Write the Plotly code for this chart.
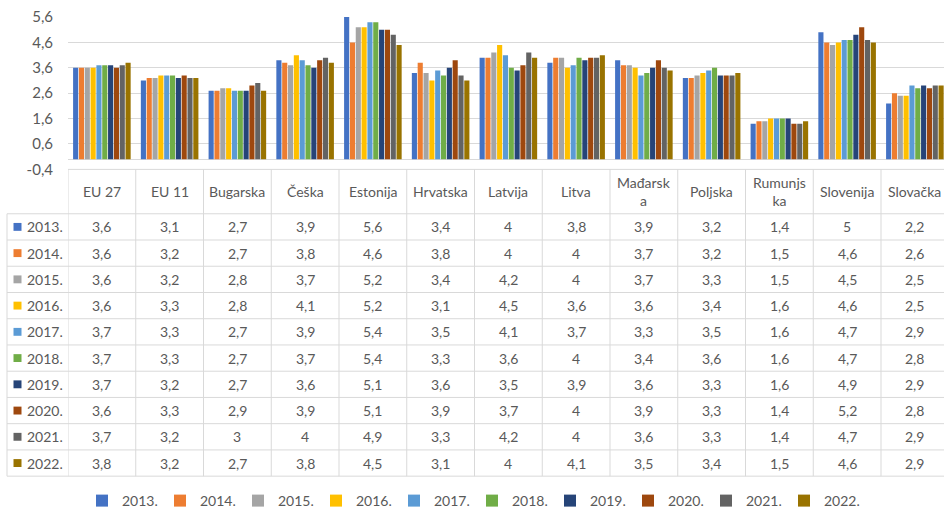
import plotly.graph_objects as go

categories = ["EU 27", "EU 11", "Bugarska", "Češka", "Estonija", "Hrvatska", "Latvija",
              "Litva", "Mađarska", "Poljska", "Rumunjska", "Slovenija", "Slovačka"]
header_labels = ["EU 27", "EU 11", "Bugarska", "Češka", "Estonija", "Hrvatska", "Latvija",
                 "Litva", "Mađarsk<br>a", "Poljska", "Rumunjs<br>ka", "Slovenija", "Slovačka"]
years = ["2013.", "2014.", "2015.", "2016.", "2017.", "2018.", "2019.", "2020.", "2021.", "2022."]

v2013 = [3.6, 3.1, 2.7, 3.9, 5.6, 3.4, 4, 3.8, 3.9, 3.2, 1.4, 5, 2.2]
v2014 = [3.6, 3.2, 2.7, 3.8, 4.6, 3.8, 4, 4, 3.7, 3.2, 1.5, 4.6, 2.6]
v2015 = [3.6, 3.2, 2.8, 3.7, 5.2, 3.4, 4.2, 4, 3.7, 3.3, 1.5, 4.5, 2.5]
v2016 = [3.6, 3.3, 2.8, 4.1, 5.2, 3.1, 4.5, 3.6, 3.6, 3.4, 1.6, 4.6, 2.5]
v2017 = [3.7, 3.3, 2.7, 3.9, 5.4, 3.5, 4.1, 3.7, 3.3, 3.5, 1.6, 4.7, 2.9]
v2018 = [3.7, 3.3, 2.7, 3.7, 5.4, 3.3, 3.6, 4, 3.4, 3.6, 1.6, 4.7, 2.8]
v2019 = [3.7, 3.2, 2.7, 3.6, 5.1, 3.6, 3.5, 3.9, 3.6, 3.3, 1.6, 4.9, 2.9]
v2020 = [3.6, 3.3, 2.9, 3.9, 5.1, 3.9, 3.7, 4, 3.9, 3.3, 1.4, 5.2, 2.8]
v2021 = [3.7, 3.2, 3, 4, 4.9, 3.3, 4.2, 4, 3.6, 3.3, 1.4, 4.7, 2.9]
v2022 = [3.8, 3.2, 2.7, 3.8, 4.5, 3.1, 4, 4.1, 3.5, 3.4, 1.5, 4.6, 2.9]
series = [v2013, v2014, v2015, v2016, v2017, v2018, v2019, v2020, v2021, v2022]

tick_vals = [-0.4, 0.6, 1.6, 2.6, 3.6, 4.6, 5.6]
tick_text = ["-0,4", "0,6", "1,6", "2,6", "3,6", "4,6", "5,6"]

colors = ["#4472C4", "#ED7D31", "#A5A5A5", "#FFC000", "#5B9BD5",
          "#70AD47", "#264478", "#9E480E", "#636363", "#997300"]

W, H = 944, 517
FONT = "Lato"
TXT = "#595959"
GRID = "#d9d9d9"


def px(x):
    return x / W


def py(y):
    return 1 - y / H


def fmt(v):
    return f"{v:g}".replace(".", ",")


fig = go.Figure()
for yr, vals, col in zip(years, series, colors):
    fig.add_trace(go.Bar(name=yr, x=categories, y=vals, marker=dict(color=col, line=dict(width=0))))

plot_left = 68
col_w = 67.75
x_end = -0.5 + (W - plot_left) / col_w

top_px, bot_px = 17.3, 171.7
header_bot = 216.7
row_h = 26.6
table_bot = header_bot + 10 * row_h

shapes = []
annotations = []
line = dict(color=GRID, width=1)
# table top border and header bottom
shapes.append(dict(type="line", xref="paper", yref="paper", x0=px(plot_left), x1=1,
                   y0=py(bot_px), y1=py(bot_px), line=line))
for i in range(11):
    yy = header_bot + i * row_h
    shapes.append(dict(type="line", xref="paper", yref="paper", x0=px(7), x1=1,
                       y0=py(yy), y1=py(yy), line=line))
# vertical borders
shapes.append(dict(type="line", xref="paper", yref="paper", x0=px(7), x1=px(7),
                   y0=py(header_bot), y1=py(table_bot), line=line))
for i in range(len(categories) + 1):
    shapes.append(dict(type="line", xref="x", yref="paper", x0=i - 0.5, x1=i - 0.5,
                       y0=py(bot_px), y1=py(table_bot), line=line))

# header labels
for cat, lab in zip(categories, header_labels):
    annotations.append(dict(x=cat, xref="x", y=py((bot_px + header_bot) / 2), yref="paper",
                            text=lab, showarrow=False, font=dict(family=FONT, size=14, color=TXT),
                            xanchor="center", yanchor="middle"))
# rows
for r, (yr, vals, col) in enumerate(zip(years, series, colors)):
    yc = header_bot + row_h * (r + 0.5)
    shapes.append(dict(type="rect", xref="paper", yref="paper", x0=px(13.5), x1=px(21.5),
                       y0=py(yc - 4), y1=py(yc + 4), fillcolor=col, line=dict(width=0)))
    annotations.append(dict(x=px(25), xref="paper", y=py(yc), yref="paper", text=yr,
                            showarrow=False, font=dict(family=FONT, size=14, color=TXT),
                            xanchor="left", yanchor="middle"))
    for cat, v in zip(categories, vals):
        annotations.append(dict(x=cat, xref="x", y=py(yc), yref="paper", text=fmt(v),
                                showarrow=False, font=dict(family=FONT, size=14, color=TXT),
                                xanchor="center", yanchor="middle"))

fig.update_layout(
    width=W, height=H,
    margin=dict(l=0, r=0, t=0, b=0),
    paper_bgcolor="white", plot_bgcolor="white",
    barmode="group", bargap=0.14, bargroupgap=0.12,
    xaxis=dict(domain=[px(plot_left), 1], range=[-0.5, x_end], showticklabels=False,
               showgrid=False, zeroline=False, showline=False, ticks="", automargin=False),
    yaxis=dict(domain=[py(bot_px), py(top_px)], range=[-0.4, 5.6], tickvals=tick_vals,
               ticktext=tick_text, showgrid=True, gridcolor=GRID, gridwidth=1,
               zeroline=True, zerolinecolor=GRID, zerolinewidth=1, showline=False,
               ticks="", ticklabelstandoff=14, automargin=False,
               tickfont=dict(family=FONT, size=15, color=TXT)),
    legend=dict(orientation="h", x=0.5, xanchor="center", y=py(508), yanchor="middle",
                font=dict(family=FONT, size=14, color=TXT), itemwidth=30,
                entrywidth=33, entrywidthmode="pixels",
                bgcolor="rgba(0,0,0,0)"),
    shapes=shapes,
    annotations=annotations,
)

fig.write_html("out.html", config={"displayModeBar": False},
               post_script="document.body.style.margin='0';")
